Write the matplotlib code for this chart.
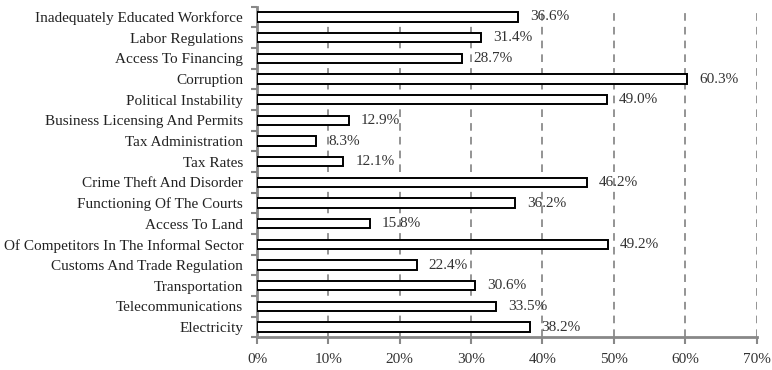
import numpy as np
import matplotlib.pyplot as plt
from matplotlib.ticker import FixedLocator

# categories listed top to bottom as in the chart
categories = [
    "Inadequately Educated Workforce",
    "Labor Regulations",
    "Access To Financing",
    "Corruption",
    "Political Instability",
    "Business Licensing And Permits",
    "Tax Administration",
    "Tax Rates",
    "Crime Theft And Disorder",
    "Functioning Of The Courts",
    "Access To Land",
    "Of Competitors In The Informal Sector",
    "Customs And Trade Regulation",
    "Transportation",
    "Telecommunications",
    "Electricity",
]
values = [36.6, 31.4, 28.7, 60.3, 49.0, 12.9, 8.3, 12.1,
          46.2, 36.2, 15.8, 49.2, 22.4, 30.6, 33.5, 38.2]
x_ticks = [0, 10, 20, 30, 40, 50, 60, 70]

plt.rcParams['font.family'] = ['Liberation Serif', 'DejaVu Serif']

fig = plt.figure(figsize=(7.72, 3.70), dpi=100)
ax = fig.add_axes([0.333, 0.088, 0.647, 0.894])

n = len(categories)
y = np.arange(n)[::-1]

ax.barh(y, values, height=0.45, color='white', edgecolor='black',
        linewidth=1.4, zorder=3)

for yi, v in zip(y, values):
    ax.annotate(f"{v:.1f}%", (v, yi), xytext=(8.5, 0), textcoords='offset points',
                va='center', ha='left', fontsize=11, color='#333333', zorder=4)

ax.set_xlim(0, 70)
ax.set_ylim(-0.5, n - 0.5)
ax.set_xticks(x_ticks)
ax.set_xticklabels([f"{t}%" for t in x_ticks], fontsize=11, color='#333333')
ax.set_yticks(y)
ax.set_yticklabels(categories, fontsize=11, color='#222222')
ax.yaxis.set_minor_locator(FixedLocator(np.arange(n + 1) - 0.5))

ax.tick_params(axis='y', which='major', length=0, pad=10)
ax.tick_params(axis='y', which='minor', length=4, width=1.5, color='#888888')
ax.tick_params(axis='x', length=5, width=1.5, color='#888888', pad=6)

ax.xaxis.grid(True, linestyle=(0, (5, 4)), color='#777777', linewidth=1.1, zorder=0)

for s in ['top', 'right']:
    ax.spines[s].set_visible(False)
for s in ['left', 'bottom']:
    ax.spines[s].set_color('#888888')
    ax.spines[s].set_linewidth(2)

fig.savefig("out.png", dpi=100)
